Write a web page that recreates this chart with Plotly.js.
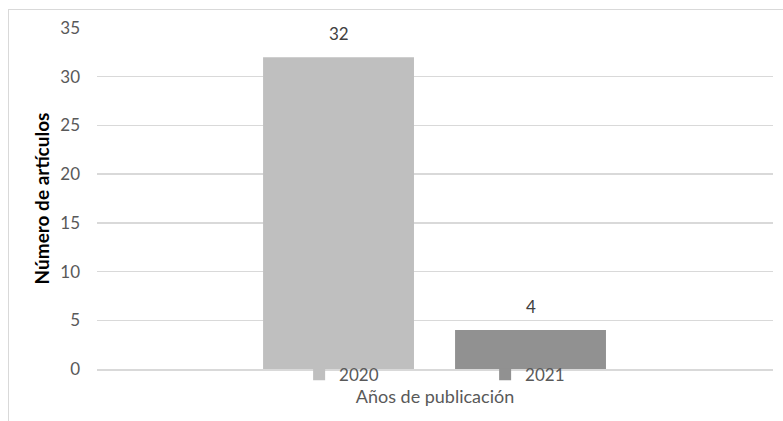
<!DOCTYPE html>
<html>
<head>
<meta charset="utf-8">
<script src="https://cdn.plot.ly/plotly-3.0.1.min.js"></script>
<style>
html,body{margin:0;padding:0;background:#fff;overflow:hidden;}
#frame{position:absolute;left:8px;top:9px;width:900px;height:600px;border:1.5px solid #D9D9D9;box-sizing:border-box;}
#chart{position:absolute;left:0;top:0;width:783px;height:421px;}
</style>
</head>
<body>
<div id="frame"></div>
<div id="chart"></div>
<script>
const seriesNames = ["2020", "2021"];
const articleCounts = [32, 4];
const seriesColors = ["#BFBFBF", "#919191"];
const yTicks = [0, 5, 10, 15, 20, 25, 30, 35];

const font = "Lato, 'Open Sans', sans-serif";

const traces = seriesNames.map((name, i) => ({
  type: "bar",
  name: name,
  x: [name],
  y: [articleCounts[i]],
  marker: {color: seriesColors[i]},
  hoverinfo: "skip"
}));

// category axis: annotation x given as the category index
const annotations = seriesNames.map((name, i) => ({
  x: i,
  y: articleCounts[i],
  xref: "x",
  yref: "y",
  text: String(articleCounts[i]),
  showarrow: false,
  yanchor: "bottom",
  yshift: 11,
  font: {family: font, size: 17, color: "#404040"}
}));

const layout = {
  width: 783,
  height: 421,
  margin: {l: 97, r: 10, t: 28, b: 52},
  paper_bgcolor: "rgba(0,0,0,0)",
  plot_bgcolor: "rgba(0,0,0,0)",
  barmode: "overlay",
  bargap: 0.214,
  font: {family: font, size: 17, color: "#595959"},
  showlegend: true,
  annotations: annotations,
  legend: {
    orientation: "h",
    x: 0.299, xanchor: "left",
    y: 0.036, yanchor: "top",
    entrywidth: 141, entrywidthmode: "pixels",
    itemwidth: 30,
    font: {family: font, size: 17, color: "#595959"},
    bgcolor: "rgba(0,0,0,0)"
  },
  xaxis: {
    type: "category",
    categoryorder: "array",
    categoryarray: seriesNames,
    range: [-1.258, 2.263],
    showticklabels: false,
    showgrid: false,
    zeroline: false,
    showline: true,
    linecolor: "#D9D9D9",
    linewidth: 1.5,
    fixedrange: true,
    automargin: false,
    title: {text: "Años de publicación", font: {family: font, size: 18, color: "#595959"}, standoff: 21}
  },
  yaxis: {
    range: [0, 35],
    tickvals: yTicks,
    ticktext: yTicks.map(String),
    showgrid: true,
    gridcolor: "#D9D9D9",
    gridwidth: 1.5,
    zeroline: false,
    showline: false,
    ticks: "",
    ticklabelstandoff: 16,
    automargin: false,
    tickfont: {family: font, size: 17, color: "#595959"},
    title: {text: "<b>Número de artículos</b>", font: {family: font, size: 19, color: "#000000"}, standoff: 5}
  }
};

Plotly.newPlot("chart", traces, layout, {staticPlot: true, displayModeBar: false});
</script>
</body>
</html>
